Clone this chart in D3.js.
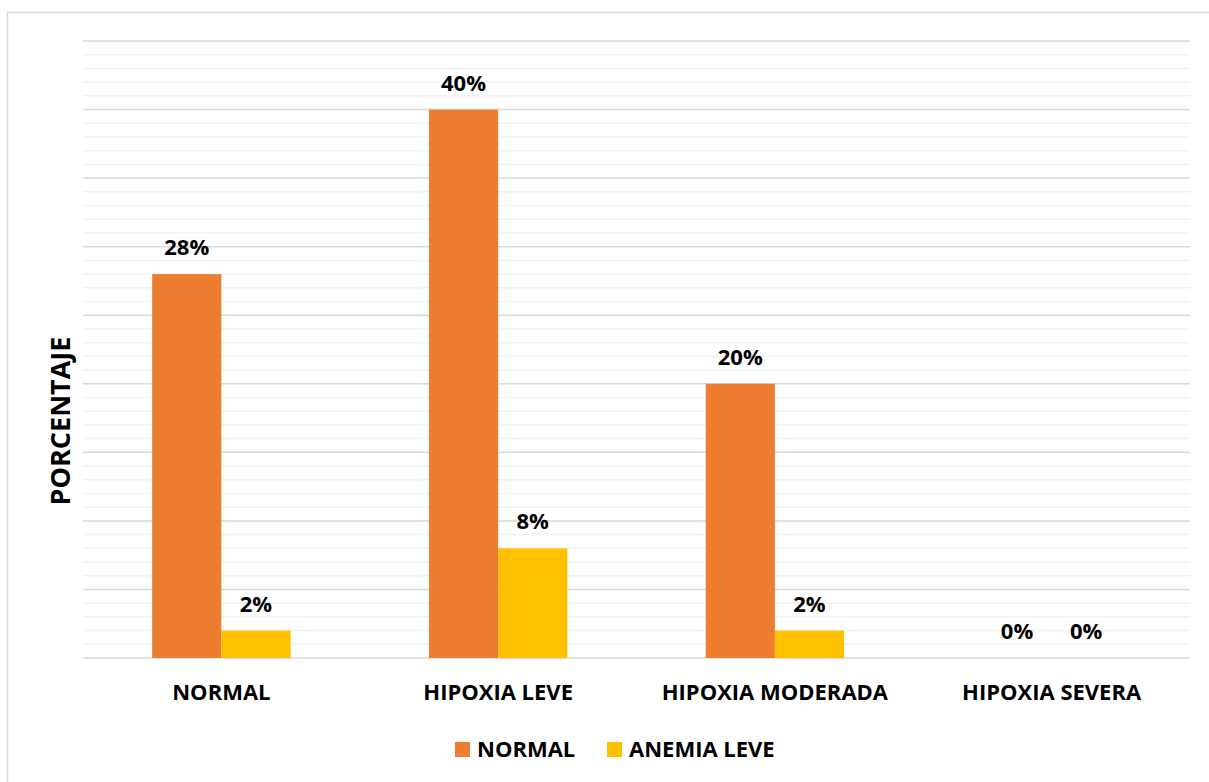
<!DOCTYPE html>
<html>
<head>
<meta charset="utf-8">
<script src="https://cdn.jsdelivr.net/npm/d3@7"></script>
<style>
  html, body { margin: 0; padding: 0; background: #fff; }
  svg text { font-family: "Open Sans", Lato, sans-serif; font-weight: bold; fill: #000; }
</style>
</head>
<body>
<svg id="chart" width="1209" height="782"></svg>
<script>
const categories = ["NORMAL", "HIPOXIA LEVE", "HIPOXIA MODERADA", "HIPOXIA SEVERA"];
const seriesNames = ["NORMAL", "ANEMIA LEVE"];
const normalValues = [28, 40, 20, 0];
const anemiaLeveValues = [2, 8, 2, 0];
const majorTicks = [0, 5, 10, 15, 20, 25, 30, 35, 40, 45];
const minorTicks = d3.range(0, 46, 1);
const colors = ["#ED7D31", "#FFC000"];

const svg = d3.select("#chart");
const plot = { left: 83, right: 1190, top: 41, bottom: 658 };

// chart frame
svg.append("rect")
  .attr("x", 7.5).attr("y", 12.5)
  .attr("width", 1220).attr("height", 800)
  .attr("fill", "none").attr("stroke", "#d9d9d9").attr("stroke-width", 1.5);

const x = d3.scaleBand().domain(categories).range([plot.left, plot.right]).paddingInner(0).paddingOuter(0);
const xSub = d3.scaleBand().domain(seriesNames).range([0, x.bandwidth()]).paddingInner(0).paddingOuter(1);
const y = d3.scaleLinear().domain([0, 45]).range([plot.bottom, plot.top]);

// minor gridlines
svg.append("g").selectAll("line").data(minorTicks.filter(t => t % 5 !== 0)).join("line")
  .attr("x1", plot.left).attr("x2", plot.right)
  .attr("y1", d => y(d)).attr("y2", d => y(d))
  .attr("stroke", "#f2f2f2").attr("stroke-width", 1.5);

// major gridlines
svg.append("g").selectAll("line").data(majorTicks).join("line")
  .attr("x1", plot.left).attr("x2", plot.right)
  .attr("y1", d => y(d)).attr("y2", d => y(d))
  .attr("stroke", "#d9d9d9").attr("stroke-width", 1.5);

const rows = categories.map((c, i) => ({
  cat: c,
  vals: [
    { s: seriesNames[0], v: normalValues[i], c: colors[0] },
    { s: seriesNames[1], v: anemiaLeveValues[i], c: colors[1] }
  ]
}));

const groups = svg.append("g").selectAll("g").data(rows).join("g")
  .attr("transform", d => `translate(${x(d.cat)},0)`);

groups.selectAll("rect").data(d => d.vals).join("rect")
  .attr("x", d => xSub(d.s))
  .attr("width", xSub.bandwidth())
  .attr("y", d => y(d.v))
  .attr("height", d => y(0) - y(d.v))
  .attr("fill", d => d.c);

groups.selectAll("text").data(d => d.vals).join("text")
  .attr("x", d => xSub(d.s) + xSub.bandwidth() / 2)
  .attr("y", d => y(d.v) - 19)
  .attr("text-anchor", "middle")
  .attr("font-size", 22)
  .text(d => d.v + "%");

// category labels
const xAxis = d3.axisBottom(x).tickSize(0).tickPadding(0);
const gx = svg.append("g").attr("transform", `translate(0,${plot.bottom})`).call(xAxis);
gx.select(".domain").remove();
gx.selectAll("text")
  .attr("y", 42).attr("dy", 0)
  .attr("font-size", 22)
  .style("font-family", "'Open Sans', Lato, sans-serif")
  .style("font-weight", "bold")
  .attr("fill", "#000");

// y axis title
svg.append("text")
  .attr("transform", "translate(70,421) rotate(-90)")
  .attr("text-anchor", "middle")
  .attr("font-size", 27)
  .text("PORCENTAJE");

// legend
const legend = svg.append("g");
const legendItems = [
  { name: seriesNames[0], color: colors[0], x: 455 },
  { name: seriesNames[1], color: colors[1], x: 607 }
];
legendItems.forEach(it => {
  legend.append("rect").attr("x", it.x).attr("y", 742).attr("width", 15).attr("height", 15).attr("fill", it.color);
  legend.append("text").attr("x", it.x + 22).attr("y", 757).attr("font-size", 22).text(it.name);
});
</script>
</body>
</html>
